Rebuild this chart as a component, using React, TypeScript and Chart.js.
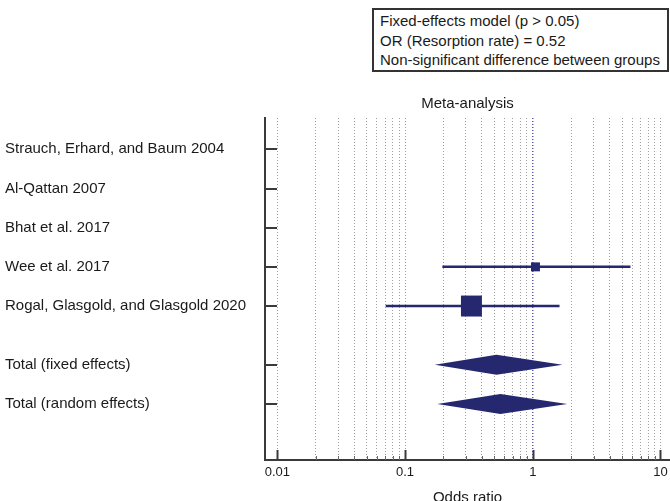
import React, { useEffect, useRef } from 'react';
import { Chart, registerables } from 'chart.js';

Chart.register(...registerables);

// ---------- data ----------
const rowLabels = [
  'Strauch, Erhard, and Baum 2004',
  'Al-Qattan 2007',
  'Bhat et al. 2017',
  'Wee et al. 2017',
  'Rogal, Glasgold, and Glasgold 2020',
  'Total (fixed effects)',
  'Total (random effects)',
];
const rowPositions = [1, 2, 3, 4, 5, 6.5, 7.5];

// individual studies (null = not estimable)
const studyOR = [null, null, null, 1.05, 0.331];
const studyLower = [null, null, null, 0.196, 0.0706];
const studyUpper = [null, null, null, 5.82, 1.62];
const studyWeight = [0, 0, 0, 15.5, 84.5];

// pooled estimates
const summaryOR = [0.52, 0.558];
const summaryLower = [0.171, 0.179];
const summaryUpper = [1.71, 1.86];

const xTickValues = [
  0.01, 0.02, 0.03, 0.04, 0.05, 0.06, 0.07, 0.08, 0.09,
  0.1, 0.2, 0.3, 0.4, 0.5, 0.6, 0.7, 0.8, 0.9,
  1, 2, 3, 4, 5, 6, 7, 8, 9,
  10,
];
const decadeValues = [0.01, 0.1, 1, 10];
const decadeLabels = ['0.01', '0.1', '1', '10'];

const infoLines = [
  'Fixed-effects model (p > 0.05)',
  'OR (Resorption rate) = 0.52',
  'Non-significant difference between groups',
];

// ---------- style ----------
const NAVY = '#25276f';
const AXIS = '#3a3a3a';
const TEXT = '#1a1a1a';
const FONT = 'Arial, "Liberation Sans", Helvetica, sans-serif';

const isDecade = (v: number) => decadeValues.some((d) => Math.abs(d - v) < d * 1e-6);

const forestPlugin = {
  id: 'forest',
  afterDatasetsDraw(chart: any) {
    const { ctx, scales } = chart;
    const x = scales.x;
    const y = scales.y;
    ctx.save();
    ctx.fillStyle = NAVY;
    summaryOR.forEach((v, i) => {
      const yc = y.getPixelForValue(rowPositions[5 + i]);
      const xl = x.getPixelForValue(summaryLower[i]);
      const xm = x.getPixelForValue(v);
      const xr = x.getPixelForValue(summaryUpper[i]);
      const h = 10;
      ctx.beginPath();
      ctx.moveTo(xl, yc);
      ctx.lineTo(xm, yc - h);
      ctx.lineTo(xr, yc);
      ctx.lineTo(xm, yc + h);
      ctx.closePath();
      ctx.fill();
    });
    ctx.restore();
  },
  afterDraw(chart: any) {
    const { ctx, scales, chartArea } = chart;
    const x = scales.x;
    const y = scales.y;
    ctx.save();
    ctx.strokeStyle = AXIS;
    ctx.lineWidth = 2;
    rowPositions.forEach((r) => {
      const py = Math.round(y.getPixelForValue(r));
      ctx.beginPath();
      ctx.moveTo(chartArea.left, py);
      ctx.lineTo(chartArea.left + 12, py);
      ctx.stroke();
    });
    xTickValues.forEach((v) => {
      const px = Math.round(x.getPixelForValue(v)) + 0.5;
      const major = isDecade(v);
      ctx.lineWidth = major ? 2 : 1;
      ctx.strokeStyle = major ? AXIS : '#666666';
      ctx.beginPath();
      ctx.moveTo(px, chartArea.bottom);
      ctx.lineTo(px, chartArea.bottom - (major ? 10 : 4));
      ctx.stroke();
    });
    ctx.restore();
  },
};

export default function App() {
  const canvasRef = useRef<HTMLCanvasElement | null>(null);

  useEffect(() => {
    if (!canvasRef.current) return;
    Chart.defaults.font.family = FONT;
    Chart.defaults.color = TEXT;

    const datasets: any[] = [];
    studyOR.forEach((v, i) => {
      if (v == null) return;
      datasets.push({
        type: 'line',
        data: [
          { x: studyLower[i], y: rowPositions[i] },
          { x: studyUpper[i], y: rowPositions[i] },
        ],
        borderColor: NAVY,
        borderWidth: 2.5,
        pointRadius: 0,
        fill: false,
      });
    });
    const squareIdx = studyOR.map((v, i) => i).filter((i) => studyOR[i] != null);
    datasets.push({
      type: 'scatter',
      data: squareIdx.map((i) => ({ x: studyOR[i], y: rowPositions[i] })),
      pointStyle: 'rect',
      pointRadius: squareIdx.map((i) => (2.28 * Math.sqrt(studyWeight[i])) / Math.SQRT2),
      pointBackgroundColor: NAVY,
      pointBorderColor: NAVY,
      pointBorderWidth: 0,
    });

    const chart = new Chart(canvasRef.current, {
      type: 'scatter',
      data: { datasets },
      options: {
        responsive: false,
        animation: false,
        events: [],
        layout: { autoPadding: false, padding: { left: 5, right: 0, top: 95, bottom: 0 } },
        plugins: {
          legend: { display: false },
          tooltip: { enabled: false },
          title: {
            display: true,
            text: 'Meta-analysis',
            fullSize: false,
            color: TEXT,
            font: { size: 15, weight: 'normal', family: FONT },
            padding: { top: 0, bottom: 5 },
          },
        },
        scales: {
          x: {
            type: 'logarithmic',
            position: 'bottom',
            min: 0.00801,
            max: 11.87,
            afterBuildTicks: (s: any) => {
              s.ticks = xTickValues.map((v) => ({ value: v, major: isDecade(v) }));
            },
            afterFit: (s: any) => {
              s.height = 48;
              s.paddingLeft = 0;
              s.paddingRight = 0;
            },
            ticks: {
              autoSkip: false,
              maxRotation: 0,
              padding: 5,
              color: TEXT,
              font: { size: 13, family: FONT },
              callback: (v: any) => {
                const k = decadeValues.findIndex((d) => Math.abs(d - v) < d * 1e-6);
                return k >= 0 ? decadeLabels[k] : '';
              },
            },
            grid: {
              drawTicks: false,
              color: (c: any) => (c.tick && Math.abs(c.tick.value - 1) < 1e-9 ? '#5b5bb0' : '#a0a0a0'),
              lineWidth: (c: any) => (c.tick && Math.abs(c.tick.value - 1) < 1e-9 ? 1.5 : 1),
            },
            border: { display: true, color: AXIS, width: 2, dash: [1, 2] },
            title: {
              display: true,
              text: 'Odds ratio',
              color: TEXT,
              font: { size: 15, family: FONT },
              padding: { top: 0, bottom: 1.2 },
            },
          },
          y: {
            type: 'linear',
            reverse: true,
            min: 0.2,
            max: 8.93,
            afterBuildTicks: (s: any) => {
              s.ticks = rowPositions.map((v) => ({ value: v }));
            },
            afterFit: (s: any) => {
              s.width = 260;
            },
            ticks: {
              autoSkip: false,
              crossAlign: 'far',
              color: TEXT,
              font: { size: 15, family: FONT },
              callback: (_v: any, i: number) => rowLabels[i],
            },
            grid: { display: false, drawTicks: false },
            border: { display: true, color: AXIS, width: 2 },
          },
        },
      } as any,
      plugins: [forestPlugin],
    });
    return () => chart.destroy();
  }, []);

  return (
    <div
      style={{
        position: 'absolute',
        left: 0,
        top: 0,
        width: 670,
        height: 501,
        overflow: 'hidden',
        background: '#ffffff',
      }}
    >
      <canvas ref={canvasRef} width={670} height={508} style={{ display: 'block' }} />
      <div
        style={{
          position: 'absolute',
          left: 372,
          top: 8,
          width: 297,
          height: 64,
          boxSizing: 'border-box',
          border: '2px solid #333333',
          padding: '1px 0 0 6px',
          background: '#ffffff',
          fontFamily: FONT,
          fontSize: 15,
          lineHeight: '19.5px',
          color: TEXT,
          whiteSpace: 'nowrap',
        }}
      >
        {infoLines.map((t) => (
          <div key={t}>{t}</div>
        ))}
      </div>
    </div>
  );
}
